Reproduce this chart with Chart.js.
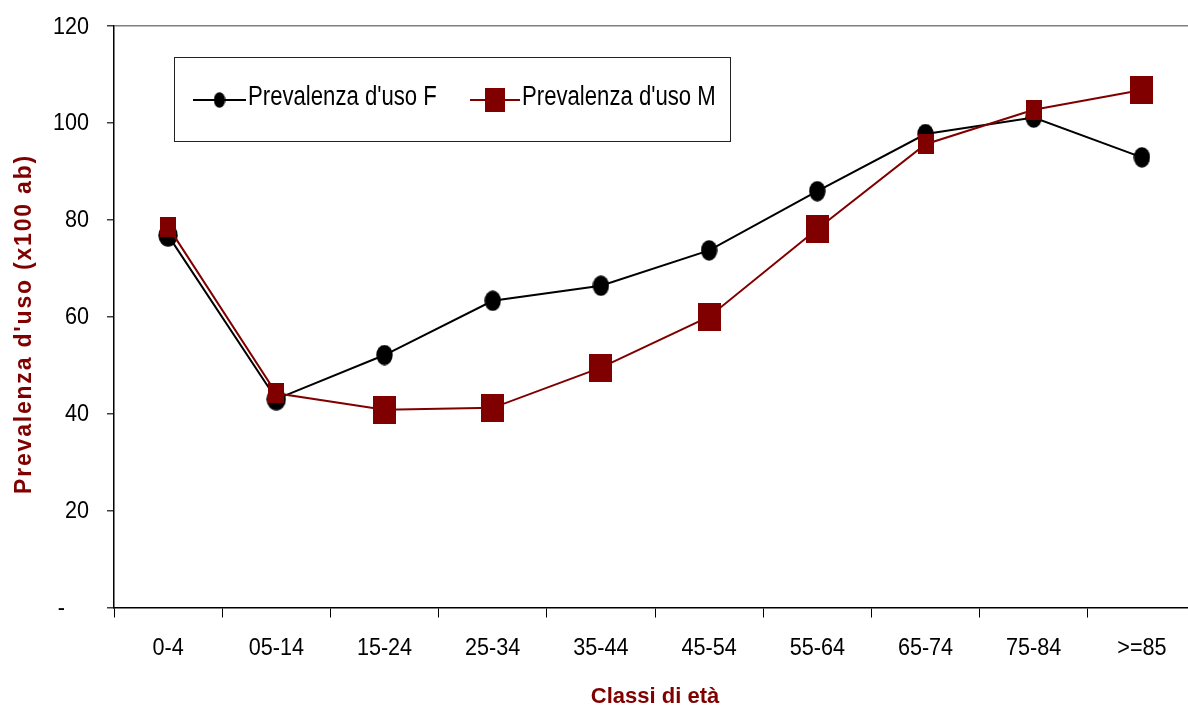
<!DOCTYPE html>
<html>
<head>
<meta charset="utf-8">
<title>Prevalenza d'uso per classi di età</title>
<script src="https://cdn.jsdelivr.net/npm/chart.js@4"></script>
<style>
  html, body { margin: 0; padding: 0; background: #fff; overflow: hidden; }
  #wrap { position: relative; width: 1196px; height: 707px; }
</style>
</head>
<body>
<div id="wrap"><canvas id="chart"></canvas></div>
<script>
// Age classes and prevalence of use (per 100 inhabitants), women and men
const ageClasses = ['0-4', '05-14', '15-24', '25-34', '35-44', '45-54', '55-64', '65-74', '75-84', '>=85'];
const prevalenceF = [76.8, 43.0, 52.1, 63.3, 66.4, 73.7, 85.9, 97.7, 101.1, 92.9];
const prevalenceM = [78.6, 44.2, 40.8, 41.2, 49.5, 60.0, 78.1, 95.6, 102.7, 106.8];
const yTickLabels = ['-    ', '20', '40', '60', '80', '100', '120'];

const seriesLabelF = "Prevalenza d'uso F";
const seriesLabelM = "Prevalenza d'uso M";
const yTitle = "Prevalenza d'uso (x100 ab)";
const xTitle = 'Classi di età';

const MAROON = '#800000';
const SANS = "'Liberation Sans', Arial, sans-serif";

// Marker sprites: filled ellipses and rectangles drawn once on small canvases
function ellipseSprite(w, h, color) {
  const c = document.createElement('canvas');
  c.width = w; c.height = h;
  const g = c.getContext('2d');
  g.fillStyle = color;
  g.beginPath();
  g.ellipse(w / 2, h / 2, w / 2 - 0.3, h / 2 - 0.3, 0, 0, Math.PI * 2);
  g.fill();
  return c;
}
function rectSprite(w, h, color) {
  const c = document.createElement('canvas');
  c.width = w; c.height = h;
  const g = c.getContext('2d');
  g.fillStyle = color;
  g.fillRect(0, 0, w, h);
  return c;
}

const circleBig = ellipseSprite(20, 23, '#000');
const circleStd = ellipseSprite(17, 21, '#000');
const squareSmall = rectSprite(16, 20, MAROON);
const squareBig = rectSprite(23, 28, MAROON);
const legendCircle = ellipseSprite(12, 16, '#000');
const legendSquare = rectSprite(20, 24, MAROON);

const circleStyles = [circleBig, circleBig, circleStd, circleStd, circleStd, circleStd, circleStd, circleStd, circleStd, circleStd];
const squareStyles = [squareSmall, squareSmall, squareBig, squareBig, squareBig, squareBig, squareBig, squareSmall, squareSmall, squareBig];

// Text in a condensed (horizontally squeezed) face
function condensedText(ctx, str, x, y, align, squeeze) {
  ctx.save();
  ctx.translate(x, y);
  ctx.scale(squeeze, 1);
  ctx.textAlign = align;
  ctx.textBaseline = 'alphabetic';
  ctx.fillText(str, 0, 0);
  ctx.restore();
}

// Tick labels, legend box and axis titles
const decorPlugin = {
  id: 'decor',
  afterDraw(chart) {
    const ctx = chart.ctx;
    const xs = chart.scales.x;
    const ys = chart.scales.y;
    ctx.save();

    // tick labels
    ctx.fillStyle = '#000';
    ctx.font = '24px ' + SANS;
    xs.ticks.forEach((t, i) => {
      condensedText(ctx, ageClasses[i], xs.getPixelForTick(i), 655, 'center', 0.9);
    });
    ys.ticks.forEach((t, i) => {
      condensedText(ctx, yTickLabels[i], 89, ys.getPixelForValue(t.value) + 7.5, 'right', 0.9);
    });

    // legend frame
    ctx.strokeStyle = '#222';
    ctx.lineWidth = 1;
    ctx.strokeRect(174.5, 57.5, 556, 84);

    const items = [
      { ds: chart.data.datasets[0], x0: 193, x1: 246, sprite: legendCircle, tx: 248 },
      { ds: chart.data.datasets[1], x0: 470, x1: 520, sprite: legendSquare, tx: 522 }
    ];
    const ly = 100;
    items.forEach(it => {
      ctx.strokeStyle = it.ds.borderColor;
      ctx.lineWidth = 2;
      ctx.beginPath();
      ctx.moveTo(it.x0, ly);
      ctx.lineTo(it.x1, ly);
      ctx.stroke();
      const cx = (it.x0 + it.x1) / 2;
      ctx.drawImage(it.sprite, cx - it.sprite.width / 2, ly - it.sprite.height / 2);
      ctx.fillStyle = '#000';
      ctx.font = '27px ' + SANS;
      condensedText(ctx, it.ds.label, it.tx, 105, 'left', 0.82);
    });

    // axis titles
    ctx.fillStyle = MAROON;
    ctx.font = 'bold 23px ' + SANS;
    ctx.textAlign = 'center';
    ctx.textBaseline = 'middle';
    ctx.save();
    ctx.translate(25, 324);
    ctx.rotate(-Math.PI / 2);
    ctx.letterSpacing = '1.8px';
    ctx.fillText(yTitle, 0, 0);
    ctx.restore();

    ctx.font = 'bold 22px ' + SANS;
    ctx.textBaseline = 'alphabetic';
    ctx.fillText(xTitle, (chart.chartArea.left + chart.chartArea.right) / 2, 703);

    ctx.restore();
  }
};

new Chart(document.getElementById('chart'), {
  type: 'line',
  data: {
    labels: ageClasses,
    datasets: [
      {
        label: seriesLabelF,
        data: prevalenceF,
        borderColor: '#000',
        backgroundColor: '#000',
        borderWidth: 2,
        pointStyle: circleStyles,
        pointRadius: 9,
        tension: 0,
        order: 1
      },
      {
        label: seriesLabelM,
        data: prevalenceM,
        borderColor: MAROON,
        backgroundColor: MAROON,
        borderWidth: 2,
        pointStyle: squareStyles,
        pointRadius: 12,
        tension: 0,
        order: 0
      }
    ]
  },
  options: {
    responsive: true,
    maintainAspectRatio: false,
    animation: false,
    devicePixelRatio: 1,
    layout: { autoPadding: false, padding: { top: 26, right: 0, bottom: 0, left: 0 } },
    plugins: {
      legend: { display: false },
      tooltip: { enabled: false },
      title: { display: false }
    },
    scales: {
      x: {
        offset: true,
        grid: {
          offset: true,
          drawOnChartArea: false,
          color: 'rgba(0,0,0,0)',
          tickColor: '#000',
          tickLength: 10,
          tickWidth: 1
        },
        border: { color: '#000', width: 1.5 },
        ticks: { display: false, autoSkip: false, maxRotation: 0 },
        afterFit(scale) { scale.height = 99.5; }
      },
      y: {
        min: 0,
        max: 120,
        grid: {
          color: ctx => (ctx.tick && ctx.tick.value === 120 ? '#808080' : 'rgba(0,0,0,0)'),
          tickColor: '#404040',
          tickLength: 7,
          lineWidth: 1.5
        },
        border: { color: '#000', width: 1.5 },
        ticks: { display: false, stepSize: 20 },
        afterFit(scale) { scale.width = 114; }
      }
    }
  },
  plugins: [decorPlugin]
});
</script>
</body>
</html>
